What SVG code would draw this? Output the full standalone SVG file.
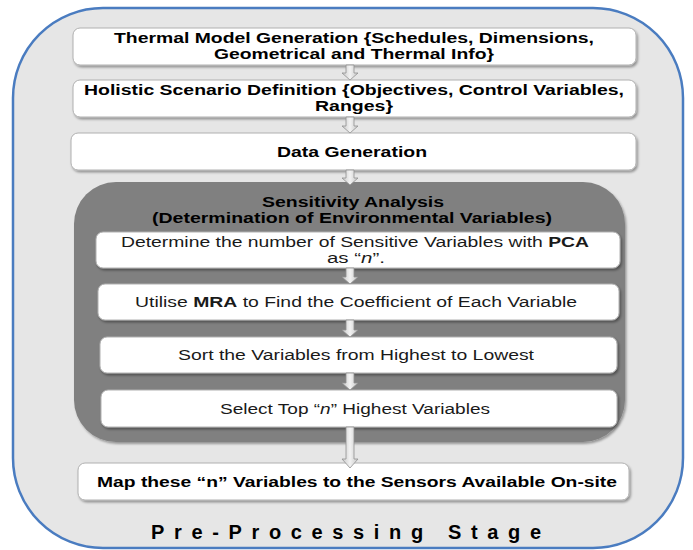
<svg xmlns="http://www.w3.org/2000/svg" width="693" height="550" viewBox="0 0 693 550">
<defs>
<filter id="sh" x="-5%" y="-20%" width="110%" height="150%">
<feDropShadow dx="1.5" dy="2" stdDeviation="1.2" flood-color="#000" flood-opacity="0.35"/>
</filter>
<linearGradient id="ag" x1="0" x2="1" y1="0" y2="0">
<stop offset="0" stop-color="#c8c8c8"/><stop offset="0.5" stop-color="#f2f2f2"/><stop offset="1" stop-color="#c8c8c8"/>
</linearGradient>
</defs>
<style>
.box{fill:#fff;stroke:#b0b0b0;stroke-width:1;filter:url(#sh)}
.b{font-family:"Liberation Sans",Arial,sans-serif;font-weight:bold;font-size:14px;fill:#000;text-anchor:middle}
.r{font-family:"Liberation Sans",Arial,sans-serif;font-size:14px;fill:#1a1a1a;text-anchor:middle}
.arr{fill:url(#ag);stroke:#909090;stroke-width:0.8}
</style>
<rect id="stage" x="13" y="8" width="670" height="540" rx="90" ry="90" fill="#e6e6e6" stroke="#4a7cc0" stroke-width="2.5"/>
<g id="sensitivity">
<rect x="74" y="182" width="551" height="260" rx="42" ry="42" fill="#808080" filter="url(#sh)"/>
<text class="b" x="353" y="207" textLength="182" lengthAdjust="spacingAndGlyphs">Sensitivity Analysis</text>
<text class="b" x="352" y="223" textLength="400" lengthAdjust="spacingAndGlyphs">(Determination of Environmental Variables)</text>
</g>
<g id="n1"><rect class="box" x="73" y="28" width="563" height="37" rx="7"/>
<text class="b" x="354" y="43" textLength="480" lengthAdjust="spacingAndGlyphs">Thermal Model Generation {Schedules, Dimensions,</text>
<text class="b" x="354" y="59" textLength="280" lengthAdjust="spacingAndGlyphs">Geometrical and Thermal Info}</text></g>
<g id="n2"><rect class="box" x="73" y="80" width="563" height="37" rx="7"/>
<text class="b" x="354" y="95" textLength="540" lengthAdjust="spacingAndGlyphs">Holistic Scenario Definition {Objectives, Control Variables,</text>
<text class="b" x="354" y="111" textLength="78" lengthAdjust="spacingAndGlyphs">Ranges}</text></g>
<g id="n3"><rect class="box" x="71" y="133" width="565" height="37" rx="7"/>
<text class="b" x="352" y="157" textLength="150" lengthAdjust="spacingAndGlyphs">Data Generation</text></g>
<g id="n4"><rect class="box" x="96" y="232" width="524" height="36" rx="7"/>
<text class="r" x="355" y="247" textLength="468" lengthAdjust="spacingAndGlyphs">Determine the number of Sensitive Variables with <tspan font-weight="bold">PCA</tspan></text>
<text class="r" x="356" y="263" textLength="58" lengthAdjust="spacingAndGlyphs">as “<tspan font-style="italic">n</tspan>”.</text></g>
<g id="n5"><rect class="box" x="98" y="284" width="521" height="36" rx="7"/>
<text class="r" x="356" y="307" textLength="442" lengthAdjust="spacingAndGlyphs">Utilise <tspan font-weight="bold">MRA</tspan> to Find the Coefficient of Each Variable</text></g>
<g id="n6"><rect class="box" x="100" y="337" width="517" height="36" rx="7"/>
<text class="r" x="356" y="360" textLength="356" lengthAdjust="spacingAndGlyphs">Sort the Variables from Highest to Lowest</text></g>
<g id="n7"><rect class="box" x="101" y="390" width="516" height="37" rx="7"/>
<text class="r" x="355" y="414" textLength="270" lengthAdjust="spacingAndGlyphs">Select Top “<tspan font-style="italic">n</tspan>” Highest Variables</text></g>
<g id="n8"><rect class="box" x="78" y="463" width="551" height="37" rx="7"/>
<text class="b" x="357" y="487" textLength="520" lengthAdjust="spacingAndGlyphs">Map these “n” Variables to the Sensors Available On-site</text></g>
<g id="connectors">
<path class="arr" d="M346 65 h8 v8 h4 l-8 7 l-8 -7 h4 z"/>
<path class="arr" d="M346 117 h8 v9 h4 l-8 7 l-8 -7 h4 z"/>
<path class="arr" d="M346 170 h8 v8 h4 l-8 7 l-8 -7 h4 z"/>
<path class="arr" d="M346 268 h8 v9 h4 l-8 7 l-8 -7 h4 z"/>
<path class="arr" d="M346 320 h8 v10 h4 l-8 7 l-8 -7 h4 z"/>
<path class="arr" d="M346 373 h8 v10 h4 l-8 7 l-8 -7 h4 z"/>
<path class="arr" d="M346 427 h8 v32 h4 l-8 9 l-8 -9 h4 z"/>
</g>
<text x="346" y="539" font-family="'Liberation Sans',Arial,sans-serif" font-weight="bold" font-size="20" textLength="390" text-anchor="middle" fill="#000">Pre-Processing Stage</text>
</svg>
